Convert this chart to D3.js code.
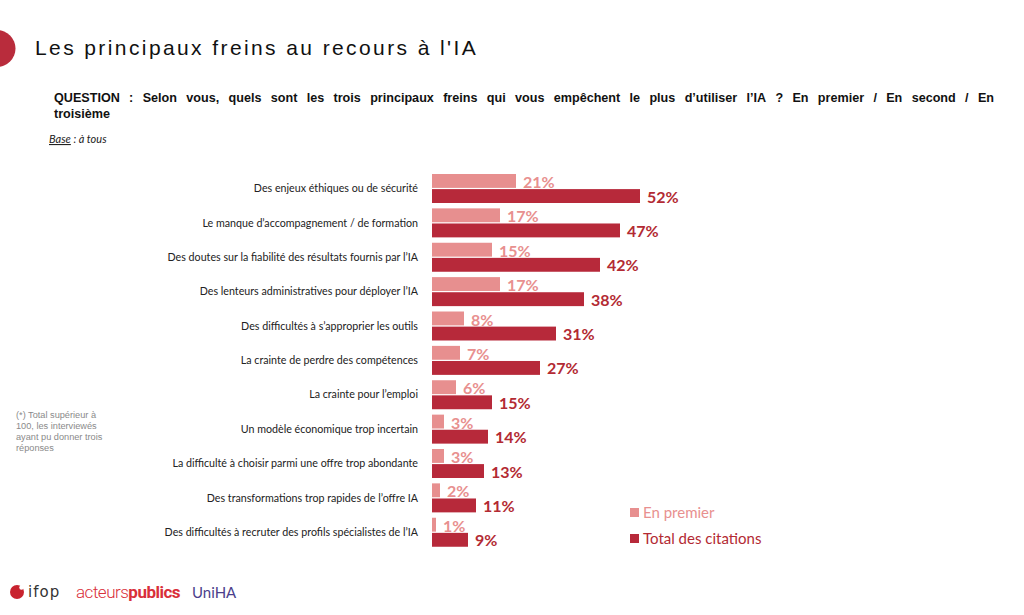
<!DOCTYPE html>
<html>
<head>
<meta charset="utf-8">
<script src="https://cdn.jsdelivr.net/npm/d3@7"></script>
<style>
  body { margin: 0; background: #fff; }
  svg { display: block; }
</style>
</head>
<body>
<svg id="chart" width="1024" height="615"></svg>
<script>
// Chart data
var categories = [
    "Des enjeux éthiques ou de sécurité",
    "Le manque d’accompagnement / de formation",
    "Des doutes sur la fiabilité des résultats fournis par l’IA",
    "Des lenteurs administratives pour déployer l’IA",
    "Des difficultés à s’approprier les outils",
    "La crainte de perdre des compétences",
    "La crainte pour l’emploi",
    "Un modèle économique trop incertain",
    "La difficulté à choisir parmi une offre trop abondante",
    "Des transformations trop rapides de l’offre IA",
    "Des difficultés à recruter des profils spécialistes de l’IA"
];
var enPremier = [21, 17, 15, 17, 8, 7, 6, 3, 3, 2, 1];
var totalCitations = [52, 47, 42, 38, 31, 27, 15, 14, 13, 11, 9];
var seriesNames = ["En premier", "Total des citations"];

var title = "Les principaux freins au recours à l'IA";
var question = "QUESTION : Selon vous, quels sont les trois principaux freins qui vous empêchent le plus d’utiliser l’IA ? En premier / En second / En";
var question2 = "troisième";
var noteLines = ["(*) Total supérieur à", "100, les interviewés", "ayant pu donner trois", "réponses"];

// Colours
var lightRed = '#e78f8f';
var darkRed = '#b7293a';
var lightText = '#e8908f';
var darkText = '#b32a33';

var svg = d3.select('#chart');

// Title with red dot
svg.append('circle')
    .attr('cx', -3).attr('cy', 48.5).attr('r', 18.5)
    .attr('fill', '#b92c3c');
svg.append('text')
    .attr('x', 35).attr('y', 55)
    .attr('font-family', 'Liberation Sans, Arial')
    .attr('font-size', 21)
    .attr('letter-spacing', 2.4)
    .attr('fill', '#111')
    .text(title);

// Question, justified by hand over the first line
var qWords = question.split(' ');
var qLeft = 54, qRight = 994;
var qg = svg.append('g')
    .attr('font-family', 'Liberation Sans, Arial')
    .attr('font-weight', 'bold')
    .attr('font-size', 12.6)
    .attr('fill', '#111');
var widths = [];
qWords.forEach(function(w){
    var t = qg.append('text').attr('x', 0).attr('y', 102).text(w);
    widths.push(t.node().getComputedTextLength());
    t.remove();
});
var gap = (qRight - qLeft - d3.sum(widths)) / (qWords.length - 1);
var cx = qLeft;
qWords.forEach(function(w, i){
    qg.append('text').attr('x', cx).attr('y', 102).text(w);
    cx += widths[i] + gap;
});
qg.append('text').attr('x', qLeft).attr('y', 118).text(question2);

// Base line
var base = svg.append('text')
    .attr('x', 49).attr('y', 143)
    .attr('font-family', 'Lato, sans-serif')
    .attr('font-style', 'italic')
    .attr('font-size', 11)
    .attr('fill', '#222');
base.append('tspan').attr('text-decoration', 'underline').text('Base');
base.append('tspan').text(' : à tous');

// Side note
svg.append('g')
    .attr('font-family', 'Liberation Sans, Arial')
    .attr('font-size', 9.2)
    .attr('fill', '#8a8a8a')
    .selectAll('text')
    .data(noteLines)
    .enter().append('text')
    .attr('x', 16)
    .attr('y', function(d, i){ return 418 + i * 11 })
    .text(function(d){ return d });

// Scales
var x = d3.scaleLinear().domain([0, 100]).range([432, 832]);
var y = d3.scaleBand().domain(categories).range([174, 548]).paddingInner(0.12).paddingOuter(0);
var sub = d3.scaleBand().domain(seriesNames).range([0, 29]).paddingInner(0.08);

// Category labels
svg.append('g')
    .attr('font-family', 'Lato, sans-serif')
    .attr('font-size', 10.7)
    .attr('fill', '#222')
    .selectAll('text')
    .data(categories)
    .enter().append('text')
    .attr('x', 418)
    .attr('y', function(d){ return y(d) + 14.5 })
    .attr('dy', '0.35em')
    .attr('text-anchor', 'end')
    .text(function(d){ return d });

// Bars
var rows = categories.map(function(c, i){
    return { cat: c, first: enPremier[i], total: totalCitations[i] };
});

var g = svg.append('g');
g.selectAll('.bar-first')
    .data(rows)
    .enter().append('rect')
    .attr('class', 'bar-first')
    .attr('x', x(0))
    .attr('y', function(d){ return y(d.cat) + sub(seriesNames[0]) })
    .attr('width', function(d){ return x(d.first) - x(0) })
    .attr('height', sub.bandwidth())
    .attr('fill', lightRed);

// Light labels go under the dark bars
g.selectAll('.lab-first')
    .data(rows)
    .enter().append('text')
    .attr('class', 'lab-first')
    .attr('x', function(d){ return x(d.first) + 7 })
    .attr('y', function(d){ return y(d.cat) + sub(seriesNames[0]) + 14 })
    .attr('font-family', 'Lato, sans-serif')
    .attr('font-weight', 'bold')
    .attr('font-size', 16)
    .attr('fill', lightText)
    .text(function(d){ return d.first + '%' });

g.selectAll('.bar-total')
    .data(rows)
    .enter().append('rect')
    .attr('class', 'bar-total')
    .attr('x', x(0))
    .attr('y', function(d){ return y(d.cat) + sub(seriesNames[1]) })
    .attr('width', function(d){ return x(d.total) - x(0) })
    .attr('height', sub.bandwidth())
    .attr('fill', darkRed);

g.selectAll('.lab-total')
    .data(rows)
    .enter().append('text')
    .attr('class', 'lab-total')
    .attr('x', function(d){ return x(d.total) + 7 })
    .attr('y', function(d){ return y(d.cat) + sub(seriesNames[1]) + 13.5 })
    .attr('font-family', 'Lato, sans-serif')
    .attr('font-weight', 'bold')
    .attr('font-size', 16)
    .attr('fill', darkText)
    .text(function(d){ return d.total + '%' });

// Legend
var legend = svg.append('g')
    .attr('font-family', 'Lato, sans-serif')
    .attr('font-size', 15);
var legendColors = [lightRed, darkRed];
var legendText = [lightText, darkText];
seriesNames.forEach(function(s, i){
    legend.append('rect')
        .attr('x', 630).attr('y', 508 + i * 26)
        .attr('width', 9).attr('height', 9)
        .attr('fill', legendColors[i]);
    legend.append('text')
        .attr('x', 643).attr('y', 518 + i * 26)
        .attr('fill', legendText[i])
        .text(s);
});

// Logos (approximated as text)
var logos = svg.append('g');
logos.append('circle').attr('cx', 17).attr('cy', 592).attr('r', 7).attr('fill', '#c8232f');
logos.append('circle').attr('cx', 21.5).attr('cy', 587.5).attr('r', 2.2).attr('fill', '#fff');
logos.append('text')
    .attr('x', 28).attr('y', 597)
    .attr('font-family', 'DejaVu Sans, sans-serif')
    .attr('font-size', 15)
    .attr('letter-spacing', 1)
    .attr('fill', '#333')
    .text('ifop');
var ap = logos.append('text')
    .attr('x', 76).attr('y', 598)
    .attr('font-family', 'Roboto, sans-serif')
    .attr('font-size', 17)
    .attr('letter-spacing', -0.5)
    .attr('fill', '#d92f3a');
ap.append('tspan').attr('font-weight', 300).text('acteurs');
ap.append('tspan').attr('font-weight', 'bold').text('publics');
logos.append('text')
    .attr('x', 192).attr('y', 598)
    .attr('font-family', 'Lato, sans-serif')
    .attr('font-size', 15)
    .attr('fill', '#4b3f8c')
    .text('UniHA');
</script>
</body>
</html>
